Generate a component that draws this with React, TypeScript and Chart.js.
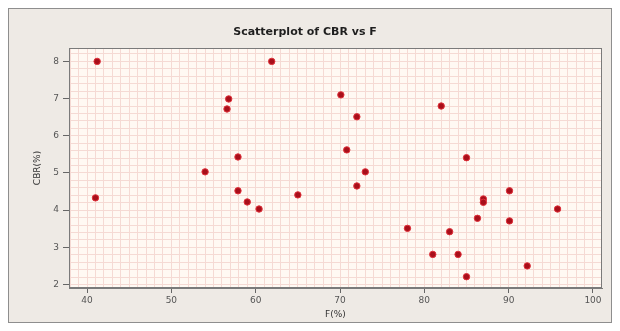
import React, { useEffect, useRef } from 'react';
import { Chart, registerables } from 'chart.js';

Chart.register(...registerables);

const fValues = [41.2, 41.0, 54.0, 56.8, 56.6, 57.9, 57.9, 59.0, 60.4, 61.9, 65.0, 70.1, 70.8, 72.0, 72.0, 73.0, 78.0, 82.0, 81.0, 83.0, 84.0, 85.0, 85.0, 86.3, 87.0, 87.0, 90.1, 90.1, 92.2, 95.8];
const cbrValues = [8.0, 4.33, 5.03, 6.99, 6.72, 5.43, 4.52, 4.22, 4.03, 8.0, 4.41, 7.1, 5.62, 6.51, 4.65, 5.03, 3.51, 6.8, 2.81, 3.42, 2.81, 5.41, 2.21, 3.78, 4.3, 4.21, 4.52, 3.71, 2.5, 4.03];

const xTickLabels = [40, 50, 60, 70, 80, 90, 100];
const yTickLabels = [2, 3, 4, 5, 6, 7, 8];

const titleText = 'Scatterplot of CBR vs F';
const xTitle = 'F(%)';
const yTitle = 'CBR(%)';

const X_MIN = 37.86;
const X_MAX = 101.07;
const Y_MIN = 1.906;
const Y_MAX = 8.36;

const isLabelX = (v: number) => xTickLabels.some((t) => Math.abs(t - v) < 1e-6);
const isLabelY = (v: number) => yTickLabels.some((t) => Math.abs(t - v) < 1e-6);

const framePlugin = {
  id: 'frame',
  beforeDraw(chart: any) {
    const { ctx, width, height, chartArea: a } = chart;
    ctx.save();
    ctx.fillStyle = '#eeeae5';
    ctx.fillRect(0, 0, width, height);
    ctx.strokeStyle = '#8e8e8e';
    ctx.lineWidth = 1;
    ctx.strokeRect(0.5, 0.5, width - 1, height - 1);
    ctx.fillStyle = '#fff9f3';
    ctx.fillRect(a.left, a.top, a.right - a.left, a.bottom - a.top);
    ctx.restore();
  },
  beforeDatasetsDraw(chart: any) {
    const { ctx, chartArea: a } = chart;
    ctx.save();
    ctx.strokeStyle = '#7a7a7a';
    ctx.lineWidth = 1;
    ctx.strokeRect(Math.round(a.left) + 0.5, Math.round(a.top) + 0.5, Math.round(a.right - a.left) - 1, Math.round(a.bottom - a.top) - 1);
    ctx.restore();
  },
};

export default function App() {
  const ref = useRef<HTMLCanvasElement | null>(null);

  useEffect(() => {
    if (!ref.current) return;
    const points = fValues.map((x, i) => ({ x, y: cbrValues[i] }));
    const tickFont = { family: '"DejaVu Sans", sans-serif', size: 9 };
    const chart = new Chart(ref.current, {
      type: 'scatter',
      data: {
        datasets: [
          {
            data: points,
            pointRadius: 3.2,
            pointHoverRadius: 3.2,
            backgroundColor: '#a80f1a',
            borderColor: '#e0303a',
            borderWidth: 1,
          },
        ],
      },
      options: {
        animation: false,
        responsive: false,
        devicePixelRatio: 1,
        layout: { padding: { left: 0, right: 10, top: 0, bottom: 0 } },
        plugins: {
          legend: { display: false },
          tooltip: { enabled: false },
          title: {
            display: true,
            text: titleText,
            color: '#1e1e1e',
            font: { family: '"DejaVu Sans", sans-serif', size: 11, weight: 'bold' },
            padding: { top: 18, bottom: 8.8 },
          },
        },
        scales: {
          x: {
            type: 'linear',
            min: X_MIN,
            max: X_MAX,
            afterBuildTicks: (s: any) => {
              const t = [];
              for (let v = 38; v <= 101; v++) t.push({ value: v });
              s.ticks = t;
            },
            afterFit: (s: any) => {
              s.height = 35;
            },
            ticks: {
              autoSkip: false,
              maxRotation: 0,
              padding: 2,
              color: '#555555',
              font: tickFont,
              callback: (v: any) => (isLabelX(Number(v)) ? String(Math.round(Number(v))) : ''),
            },
            grid: {
              color: '#f5dad4',
              lineWidth: 1,
              tickLength: 5,
              tickColor: (c: any) => (c.tick && isLabelX(c.tick.value) ? '#666666' : 'rgba(0,0,0,0)'),
            },
            border: { display: true, color: '#7a7a7a' },
            title: {
              display: true,
              text: xTitle,
              color: '#333333',
              font: { family: '"DejaVu Sans", sans-serif', size: 9 },
              padding: { top: 0, bottom: 2.6 },
            },
          },
          y: {
            type: 'linear',
            min: Y_MIN,
            max: Y_MAX,
            afterBuildTicks: (s: any) => {
              const t = [];
              for (let i = 10; i <= 41; i++) t.push({ value: i / 5 });
              s.ticks = t;
            },
            afterFit: (s: any) => {
              s.width = 61;
            },
            ticks: {
              autoSkip: false,
              padding: 4,
              color: '#555555',
              font: tickFont,
              callback: (v: any) => (isLabelY(Number(v)) ? String(Math.round(Number(v))) : ''),
            },
            grid: {
              color: '#f5dad4',
              lineWidth: 1,
              tickLength: 6,
              tickColor: (c: any) => (c.tick && isLabelY(c.tick.value) ? '#666666' : 'rgba(0,0,0,0)'),
            },
            border: { display: true, color: '#7a7a7a' },
            title: {
              display: true,
              text: yTitle,
              color: '#333333',
              font: { family: '"DejaVu Sans", sans-serif', size: 9 },
              padding: { top: 24.6, bottom: 0 },
            },
          },
        },
      },
      plugins: [framePlugin],
    } as any);
    return () => chart.destroy();
  }, []);

  return (
    <div style={{ width: 604, height: 315 }}>
      <canvas ref={ref} width={604} height={315} style={{ display: 'block', width: 604, height: 315 }} />
    </div>
  );
}
